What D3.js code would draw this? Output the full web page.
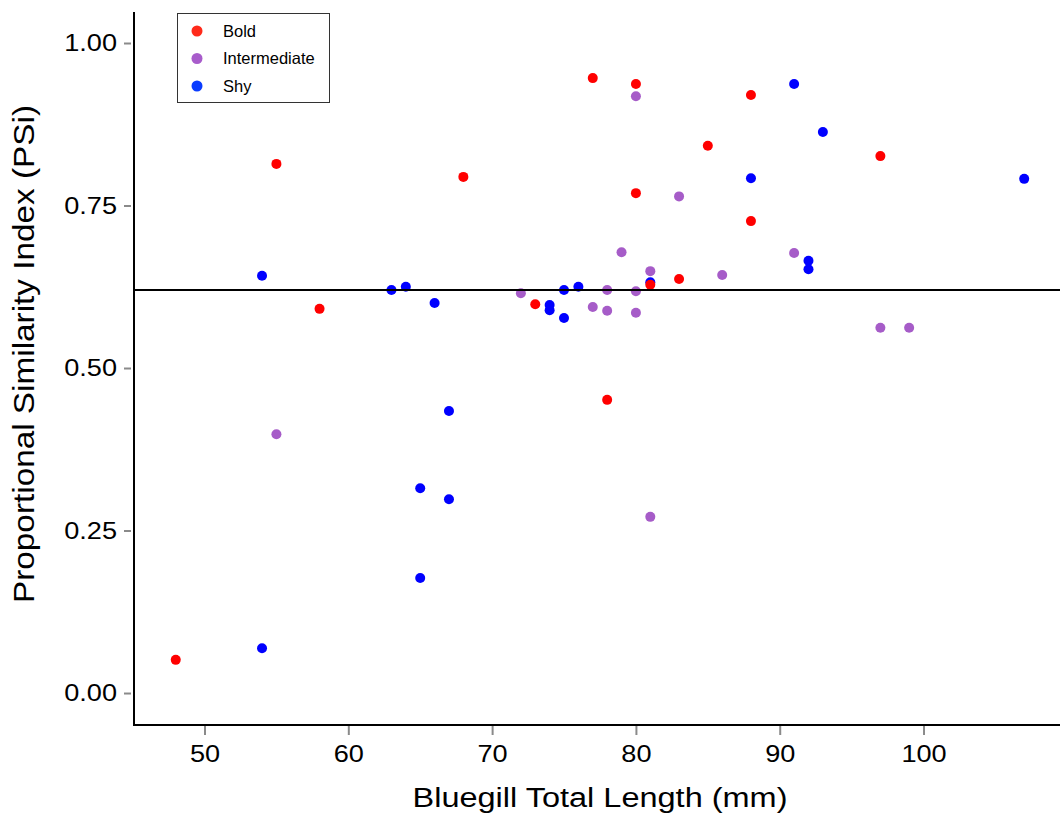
<!DOCTYPE html>
<html>
<head>
<meta charset="utf-8">
<script src="https://cdn.jsdelivr.net/npm/d3@7"></script>
<style>
  html, body { margin: 0; padding: 0; background: #fff; }
  svg { display: block; font-family: "Liberation Sans", Arial, Helvetica, sans-serif; }
</style>
</head>
<body>
<svg id="chart" width="1060" height="821"></svg>
<script>
// ---- Data ----
const groups = ["Bold", "Intermediate", "Shy"];

const boldX = [48, 55, 58, 68, 73, 77, 80, 80, 78, 81, 83, 85, 88, 88, 97];
const boldY = [0.051, 0.814, 0.591, 0.794, 0.598, 0.946, 0.937, 0.769, 0.451, 0.628, 0.637, 0.842, 0.920, 0.726, 0.826];

const interX = [55, 72, 77, 78, 78, 79, 80, 80, 80, 81, 81, 83, 86, 91, 97, 99];
const interY = [0.398, 0.615, 0.594, 0.620, 0.588, 0.678, 0.918, 0.618, 0.585, 0.649, 0.271, 0.764, 0.643, 0.677, 0.562, 0.562];

const shyX = [54, 54, 63, 64, 66, 65, 65, 67, 67, 74, 74, 75, 75, 76, 81, 88, 91, 93, 92, 92, 107];
const shyY = [0.642, 0.069, 0.620, 0.625, 0.600, 0.315, 0.177, 0.434, 0.298, 0.597, 0.589, 0.620, 0.577, 0.625, 0.632, 0.792, 0.937, 0.863, 0.665, 0.652, 0.791];

const meanPSI = 0.62;

const xTicks = [50, 60, 70, 80, 90, 100];
const yTicks = [0, 0.25, 0.5, 0.75, 1.0];

const xLabel = "Bluegill Total Length (mm)";
const yLabel = "Proportional Similarity Index (PSi)";

// ---- Styling ----
const pointColor = { "Bold": "#ff0000", "Intermediate": "#a65cc8", "Shy": "#0000ff" };
const legendColor = { "Bold": "#ff2a1a", "Intermediate": "#a85ccb", "Shy": "#0a3cff" };

const svg = d3.select("#chart");
const pLeft = 134, pRight = 1060, pTop = 12, pBottom = 725;

const x = d3.scaleLinear().domain([45.097, 109.49]).range([pLeft, pRight]);
const y = d3.scaleLinear().domain([-0.0492, 1.0477]).range([pBottom, pTop]);

const series = [
  { name: "Intermediate", xs: interX, ys: interY },
  { name: "Shy", xs: shyX, ys: shyY },
  { name: "Bold", xs: boldX, ys: boldY }
];

// points
series.forEach(s => {
  const pts = s.xs.map((v, i) => ({ x: v, y: s.ys[i] }));
  svg.append("g").selectAll("circle").data(pts).join("circle")
    .attr("cx", d => x(d.x))
    .attr("cy", d => y(d.y))
    .attr("r", 5)
    .attr("fill", pointColor[s.name]);
});

// mean line
svg.append("line")
  .attr("x1", pLeft).attr("x2", pRight)
  .attr("y1", y(meanPSI)).attr("y2", y(meanPSI))
  .attr("stroke", "#000").attr("stroke-width", 2.2);

// axes
const xAxis = d3.axisBottom(x).tickValues(xTicks).tickFormat(d3.format("d")).tickSize(9).tickPadding(10);
const yAxis = d3.axisLeft(y).tickValues(yTicks).tickFormat(d3.format(".2f")).tickSize(7).tickPadding(7);

const gx = svg.append("g").attr("transform", `translate(0,${pBottom + 1})`).call(xAxis);
const gy = svg.append("g").attr("transform", `translate(${pLeft - 3},0)`).call(yAxis);

[gx, gy].forEach(g => {
  g.select(".domain").remove();
  g.selectAll(".tick line").attr("stroke", "#8a8a8a").attr("stroke-width", 2);
  g.selectAll(".tick text")
    .attr("fill", "#000")
    .style("font-size", "24px")
    .style("font-family", "'Liberation Sans', Arial, sans-serif")
    .each(function () {
      const w = this.getComputedTextLength();
      d3.select(this).attr("textLength", w * 1.13).attr("lengthAdjust", "spacingAndGlyphs");
    });
});
gx.selectAll(".tick text").attr("dy", "0.71em");

// axis lines
svg.append("line").attr("x1", pLeft).attr("x2", pLeft).attr("y1", pTop).attr("y2", pBottom + 1)
  .attr("stroke", "#000").attr("stroke-width", 2);
svg.append("line").attr("x1", pLeft - 1).attr("x2", pRight).attr("y1", pBottom).attr("y2", pBottom)
  .attr("stroke", "#000").attr("stroke-width", 2);

// axis titles
svg.append("text")
  .attr("x", 600).attr("y", 807)
  .attr("text-anchor", "middle")
  .attr("textLength", 375).attr("lengthAdjust", "spacingAndGlyphs")
  .style("font-size", "27px")
  .attr("fill", "#000")
  .text(xLabel);

svg.append("text")
  .attr("transform", "translate(34,354) rotate(-90)")
  .attr("text-anchor", "middle")
  .attr("textLength", 498).attr("lengthAdjust", "spacingAndGlyphs")
  .style("font-size", "29px")
  .attr("fill", "#000")
  .text(yLabel);

// legend
const lg = svg.append("g");
lg.append("rect")
  .attr("x", 177.5).attr("y", 13.5).attr("width", 152).attr("height", 89)
  .attr("fill", "#fff").attr("stroke", "#333").attr("stroke-width", 1);
const ly = d3.scalePoint().domain(groups).range([31, 86]);
lg.selectAll("circle").data(groups).join("circle")
  .attr("cx", 197).attr("cy", d => ly(d)).attr("r", 5.5)
  .attr("fill", d => legendColor[d]);
lg.selectAll("text").data(groups).join("text")
  .attr("x", 223).attr("y", d => ly(d)).attr("dy", "0.35em")
  .style("font-size", "16.5px").attr("fill", "#000")
  .text(d => d);
</script>
</body>
</html>
